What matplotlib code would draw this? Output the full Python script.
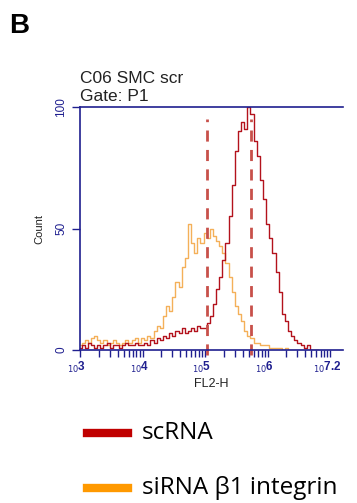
import numpy as np
import matplotlib
matplotlib.use("Agg")
import matplotlib.pyplot as plt
from matplotlib.transforms import ScaledTranslation

# log10 FL2-H bin positions (0.05 steps from 10^3 to 10^6.8)
log_bins = np.round(np.arange(3.0, 6.801, 0.05), 2)

scrna = [1, 2, 1, 3, 2, 1, 2, 1, 2, 3, 1, 2, 2, 1, 2, 3, 2, 2, 3, 2,
         2, 3, 2, 4, 3, 5, 4, 6, 5, 7, 6, 8, 7, 9, 7, 8, 9, 8, 10, 9,
         9, 11, 14, 19, 25, 30, 37, 44, 55, 68, 82, 90, 94, 91, 100, 97, 86, 80, 70, 62,
         52, 46, 40, 32, 24, 15, 12, 8, 6, 4, 3, 2, 1, 2, 0, 0, 0]
sirna = [2, 3, 4, 3, 5, 6, 4, 3, 4, 2, 3, 4, 3, 2, 3, 4, 3, 4, 5, 3,
         5, 4, 6, 5, 8, 10, 9, 14, 18, 16, 22, 28, 26, 34, 38, 52, 44, 40, 46, 44,
         48, 46, 50, 47, 45, 43, 40, 36, 30, 24, 18, 15, 12, 8, 6, 5, 3, 3, 2, 2,
         2, 1, 1, 1, 1, 0, 1, 0, 0, 0, 0, 0, 0, 0, 0, 0, 0]

gates = [5.03, 5.73]
yticks = [0, 50, 100]
xticks = [1e3, 1e4, 1e5, 1e6, 1e7]
xlabels = [r"$_{10}$3", r"$_{10}$4", r"$_{10}$5", r"$_{10}$6", r"$_{10}$7.2"]

navy = "#1f1f8f"
red = "#b3121c"
orange = "#f3a23c"

plt.rcParams['font.family'] = ['Liberation Sans', 'DejaVu Sans']

fig = plt.figure(figsize=(3.57, 5.03), dpi=100)
fig.text(0.025, 0.934, "B", fontsize=20, fontweight="bold")

ax = fig.add_axes([0.224, 0.304, 0.736, 0.483])
x = 10 ** log_bins
ax.step(x, sirna, where="mid", color=orange, lw=1, alpha=0.85)
ax.step(x, scrna, where="mid", color=red, lw=1)
for g in gates:
    ax.plot([10 ** g, 10 ** g], [-2, 95], color="#c8504a", lw=2,
            dashes=(4, 3), clip_on=False)

ax.set_xscale("log")
ax.set_xlim(1e3, 10 ** 7.2)
ax.set_ylim(0, 100)
ax.spines["right"].set_visible(False)
for s in ["left", "top", "bottom"]:
    ax.spines[s].set_color(navy)
    ax.spines[s].set_linewidth(1.2)

ax.set_yticks(yticks)
ax.set_yticklabels([str(v) for v in yticks], rotation=90, va="center",
                   color=navy, fontsize=8.5)
ax.tick_params(axis="y", colors=navy, length=6, width=1, pad=3)
ax.set_xticks(xticks)
ax.set_xticklabels(xlabels, color=navy, fontsize=8.5, fontweight="bold")
ax.tick_params(axis="x", which="major", colors=navy, length=5, width=1, pad=2)
ax.tick_params(axis="x", which="minor", colors=navy, length=5, width=1)
for lbl in ax.get_xticklabels():
    lbl.set_transform(lbl.get_transform() + ScaledTranslation(-3 / 100, 0, fig.dpi_scale_trans))

ax.set_xlabel("FL2-H", fontsize=9, color="#222222", labelpad=2)
ax.set_ylabel("Count", fontsize=8, color="#222222", labelpad=8)
ax.text(0.0, 1.099, "C06 SMC scr", transform=ax.transAxes, fontsize=12.5,
        color="#222222")
ax.text(0.0, 1.025, "Gate: P1", transform=ax.transAxes, fontsize=12.5,
        color="#222222")

# legend drawn as figure lines and text
fig.add_artist(plt.Line2D([0.244, 0.358], [0.139, 0.139], color="#c00000", lw=6))
fig.text(0.398, 0.139, "scRNA", fontsize=17.5, va="center", family="Open Sans")
fig.add_artist(plt.Line2D([0.244, 0.358], [0.030, 0.030], color="#ff9900", lw=6))
fig.text(0.398, 0.030, "siRNA β1 integrin", fontsize=17.5, va="center", family="Open Sans")

fig.savefig("out.png", dpi=100)
